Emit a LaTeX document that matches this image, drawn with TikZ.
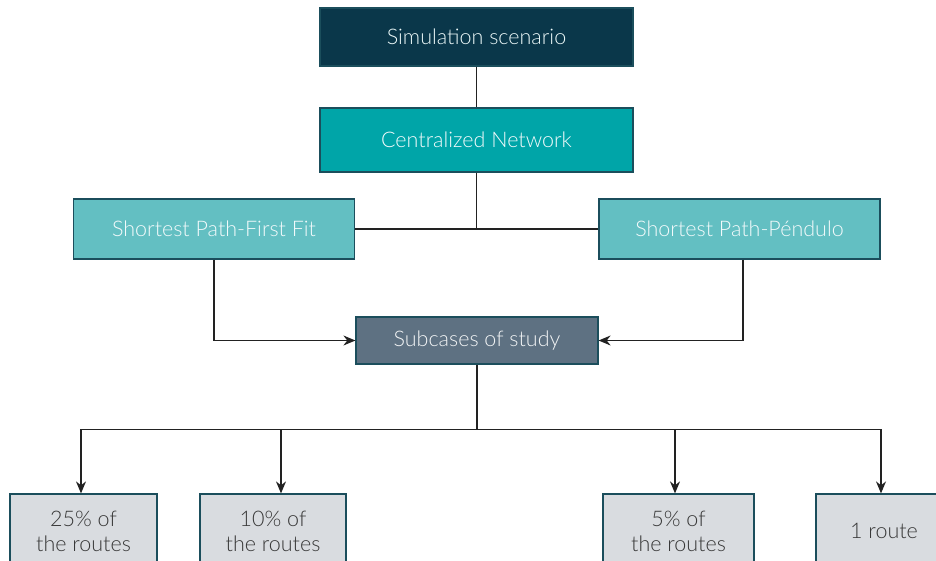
\documentclass[tikz,border=0pt]{standalone}
\usepackage{fontspec}
\setmainfont{Lato}[UprightFont=* Light]
\usetikzlibrary{arrows.meta}

\definecolor{navy}{HTML}{0A374A}
\definecolor{teal}{HTML}{00A5A8}
\definecolor{lightteal}{HTML}{63BFC2}
\definecolor{slate}{HTML}{5E7182}
\definecolor{pale}{HTML}{D9DCE0}
\definecolor{edge}{HTML}{1B4E5C}
\definecolor{ink}{HTML}{222222}

\begin{document}
\begin{tikzpicture}[x=1pt, y=-1pt,
    font=\fontsize{21.5}{25}\selectfont,
    box/.style={draw=edge, line width=1.2pt, rectangle, align=center, inner sep=0pt},
    topbox/.style={box, fill=navy, text=white!92!teal},
    netbox/.style={box, fill=teal, text=white!95!teal},
    pathbox/.style={box, fill=lightteal, text=white!95!teal, minimum width=281, minimum height=60},
    subbox/.style={box, fill=slate, text=white!92!slate, minimum width=242, minimum height=47},
    casebox/.style={box, fill=pale, text=ink!90, minimum height=74},
    link/.style={draw=ink, line width=1.3pt},
    arr/.style={link, -{Stealth[length=12pt, width=10pt]}}]
    \useasboundingbox (0,0) rectangle (936,561);

    \node [topbox, minimum width=313, minimum height=58] (scenario) at (476.5,37) {Simulation scenario};
    \node [netbox, minimum width=313, minimum height=64] (network) at (476.5,140) {Centralized Network};

    \node [pathbox] (firstfit) at (214,229) {Shortest Path-First Fit};
    \node [pathbox] (pendulo) at (739.5,229) {Shortest Path-Péndulo};

    \node [subbox] (subcases) at (477,340.5) {Subcases of study};

    \node [casebox, minimum width=147] (case25) at (83.5,531) {25\% of\\the routes};
    \node [casebox, minimum width=146] (case10) at (273,531) {10\% of\\the routes};
    \node [casebox, minimum width=151] (case5) at (678.5,531) {5\% of\\the routes};
    \node [casebox, minimum width=136] (case1) at (884,531) {1 route};

    \draw [link] (scenario) -- (network);
    \draw [link] (network.south) -- (network.south |- firstfit.east);
    \draw [link] (firstfit) -- (pendulo);

    \draw [arr] (firstfit.south) |- (subcases.west);
    \draw [arr] ([xshift=3.5]pendulo.south) |- (subcases.east);

    % bus under the subcases
    \draw [link] (subcases.south) -- ++(0,65) coordinate (bus);
    \draw [arr] (bus) -| ([xshift=-2.5]case25.north);
    \draw [arr] (bus) -| ([xshift=8]case10.north);
    \draw [arr] (bus) -| ([xshift=-3.5]case5.north);
    \draw [arr] (bus) -| ([xshift=-3]case1.north);
\end{tikzpicture}
\end{document}
